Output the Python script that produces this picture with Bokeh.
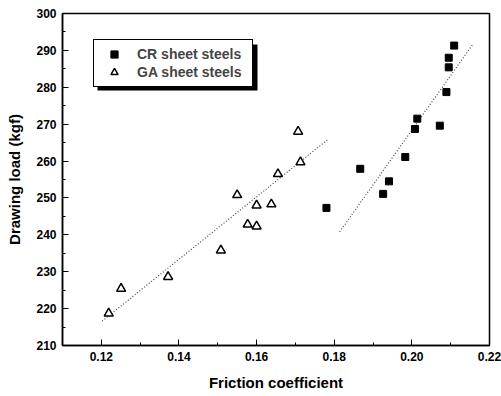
from bokeh.plotting import figure
from bokeh.embed import file_html
from bokeh.resources import INLINE
from bokeh.models import Range1d, Legend, LegendItem, FixedTicker, BoxAnnotation, CustomJSTickFormatter

cr_x = [0.1780, 0.1867, 0.1926, 0.1941, 0.1983, 0.2008, 0.2014, 0.2072, 0.2089, 0.2095, 0.2095, 0.2109]
cr_y = [247.3, 257.9, 251.1, 254.5, 261.1, 268.7, 271.5, 269.6, 278.7, 285.4, 288.0, 291.3]

ga_x = [0.1219, 0.1251, 0.1372, 0.1508, 0.1550, 0.1577, 0.1600, 0.1600, 0.1638, 0.1655, 0.1713, 0.1707]
ga_y = [218.7, 225.4, 228.6, 235.8, 250.8, 242.8, 242.3, 248.0, 248.3, 256.5, 259.7, 268.0]

cr_fit_x = [0.1814, 0.2158]
cr_fit_y = [240.8, 291.8]
ga_fit_x = [0.1202, 0.1783]
ga_fit_y = [216.6, 265.8]

x_ticks = [0.12, 0.14, 0.16, 0.18, 0.20, 0.22]
y_ticks = [210, 220, 230, 240, 250, 260, 270, 280, 290, 300]

p = figure(width=501, height=396, output_backend="svg", toolbar_location=None,
           x_range=Range1d(0.110, 0.220), y_range=Range1d(210, 300),
           min_border_left=62, min_border_right=12, min_border_top=13, min_border_bottom=51)
p.background_fill_color = "white"
p.border_fill_color = "white"
p.outline_line_color = "black"
p.outline_line_width = 1.5
p.grid.visible = False

FONT = "Liberation Sans"
for ax in (p.xaxis[0], p.yaxis[0]):
    ax.axis_line_color = "black"
    ax.axis_line_width = 1.5
    ax.major_tick_in = 6
    ax.major_tick_out = 0
    ax.minor_tick_in = 3
    ax.minor_tick_out = 0
    ax.major_label_text_font = FONT
    ax.major_label_text_font_style = "bold"
    ax.major_label_text_font_size = "12px"
    ax.major_label_text_color = "black"
    ax.axis_label_text_font = FONT
    ax.axis_label_text_font_style = "bold"
    ax.axis_label_text_font_size = "15px"
    ax.axis_label_text_color = "black"

p.xaxis.ticker = FixedTicker(ticks=x_ticks, minor_ticks=[0.11 + 0.01 * i for i in range(12)])
p.yaxis.ticker = FixedTicker(ticks=y_ticks, minor_ticks=[205 + 10 * i for i in range(10)])
p.xaxis.formatter = CustomJSTickFormatter(code="return tick.toFixed(2);")
p.xaxis.axis_label = "Friction coefficient"
p.yaxis.axis_label = "Drawing load (kgf)"
p.xaxis.major_label_standoff = 6
p.xaxis.axis_label_standoff = 10
p.yaxis.major_label_standoff = 6
p.yaxis.axis_label_standoff = 10

p.line(ga_fit_x, ga_fit_y, line_color="#444444", line_width=1.2, line_dash="1 2")
p.line(cr_fit_x, cr_fit_y, line_color="#444444", line_width=1.2, line_dash="1 2")

r_cr = p.scatter(cr_x, cr_y, marker="square", size=7, fill_color="black", line_color="black")
r_ga = p.scatter(ga_x, ga_y, marker="triangle", size=9, fill_color="white", line_color="black", line_width=1.5)

shadow = BoxAnnotation(left=97, right=257, top=44, bottom=90,
                       left_units="canvas", right_units="canvas", top_units="canvas", bottom_units="canvas",
                       fill_color="black", fill_alpha=1.0, line_color=None, level="annotation")
p.add_layout(shadow)

legend = Legend(items=[LegendItem(label="CR sheet steels", renderers=[r_cr]),
                       LegendItem(label="GA sheet steels", renderers=[r_ga])],
                location=(31, 258))
legend.label_text_font = FONT
legend.label_text_font_style = "bold"
legend.label_text_font_size = "14px"
legend.border_line_color = "black"
legend.border_line_alpha = 1.0
legend.border_line_width = 1.5
legend.background_fill_color = "white"
legend.background_fill_alpha = 1.0
legend.padding = 5
legend.spacing = 0
legend.label_height = 18
legend.glyph_height = 18
legend.glyph_width = 30
legend.label_standoff = 8
legend.margin = 0
legend.level = "overlay"
legend.label_width = 110
p.add_layout(legend, "center")

open("out.html", "w").write(file_html(p, INLINE))
